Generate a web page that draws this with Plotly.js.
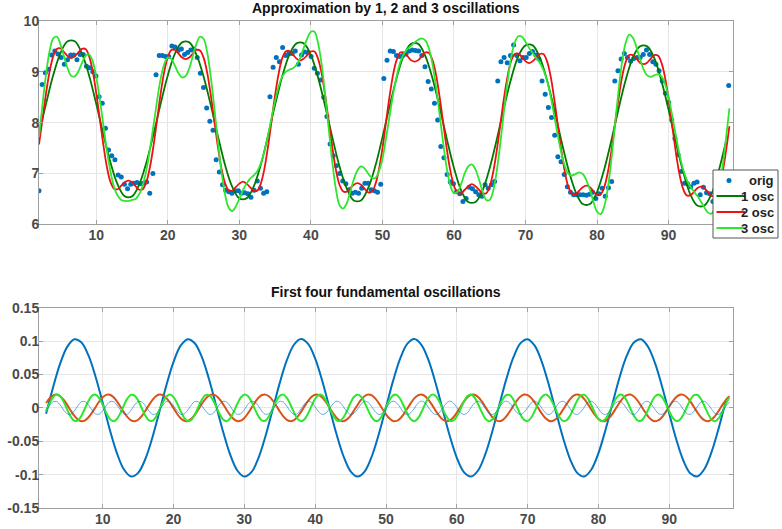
<!DOCTYPE html>
<html><head><meta charset="utf-8">
<script src="https://cdn.plot.ly/plotly-3.0.1.min.js"></script>
<style>html,body{margin:0;padding:0;background:#fff}#chart{width:782px;height:529px}</style>
</head><body><div id="chart"></div>
<script>
// ---------- data ----------
const origStart = 2, origStep = 0.4422;
const origY = [
6.66,8.75,8.98,9.05,9.33,9.41,9.35,9.28,9.15,9.24,9.33,9.33,9.24,9.34,9.34,9.11,9.08,9.00,8.92,8.51,8.38,7.89,7.46,7.35,7.27,6.97,6.93,6.79,6.70,6.79,6.81,6.82,6.80,6.81,6.83,6.61,7.00,8.94,
9.32,9.32,9.30,9.30,9.51,9.49,9.42,9.45,9.34,9.38,9.43,9.45,9.28,8.97,8.69,8.29,8.03,7.85,7.27,7.03,6.78,6.67,6.64,6.61,6.66,6.66,6.61,6.62,6.60,6.53,6.67,6.85,6.71,6.61,6.64,8.51,
9.09,9.28,9.20,9.48,9.32,9.36,9.36,9.41,9.15,9.33,9.39,9.38,9.30,9.07,8.97,8.84,8.50,8.12,7.58,7.35,7.15,7.00,6.85,6.80,6.68,6.61,6.63,6.61,6.71,6.81,6.81,6.68,6.66,6.63,6.79,8.87,9.23,
9.41,9.40,9.32,9.30,9.32,9.35,9.41,9.43,9.42,9.41,9.32,9.10,8.81,8.66,8.38,8.05,7.53,7.31,6.98,6.83,6.80,6.64,6.60,6.45,6.51,6.73,6.70,6.64,6.58,6.55,6.78,6.71,6.78,6.84,8.82,9.20,
9.28,9.18,9.32,9.53,9.32,9.22,9.28,9.28,9.36,9.40,9.33,9.25,8.82,8.56,8.30,8.10,7.75,7.33,7.23,6.98,6.74,6.63,6.58,6.58,6.58,6.58,6.57,6.59,6.63,6.51,6.60,6.71,6.55,6.72,6.84,8.82,9.02,9.25,
9.36,9.28,9.21,9.26,9.28,9.28,9.34,9.43,9.34,9.20,9.15,9.02,8.82,8.58,8.40,8.05,7.69,7.37,7.04,6.81,6.80,6.74,6.81,6.83,6.58,6.73,6.62,6.60,6.45,6.55,6.65,6.80,7.00,8.73];

const lineStart = 2, coarseStep = 1, fineStep = 0.5;
const osc1Y = [7.78,8.38,8.94,9.37,
9.60,9.60,9.36,8.93,8.37,7.77,7.21,6.78,6.55,6.55,6.78,7.21,7.77,8.37,8.93,9.36,
9.58,9.58,9.34,8.91,8.35,7.74,7.17,6.74,6.51,6.51,6.74,7.17,7.74,8.35,8.91,9.34,
9.56,9.56,9.33,8.89,8.32,7.71,7.14,6.71,6.47,6.47,6.71,7.14,7.71,8.32,8.89,9.33,
9.55,9.55,9.31,8.87,8.30,7.68,7.11,6.67,6.44,6.44,6.67,7.11,7.68,8.30,8.87,9.31,
9.52,9.52,9.28,8.84,8.27,7.65,7.08,6.64,6.40,6.40,6.64,7.08,7.65,8.27,8.84,9.28,
9.50,9.50,9.27,8.82,8.25,7.62,7.05,6.60,6.37,6.37,6.60,7.05,7.62];

const osc2Y = [
7.57,8.08,8.59,9.02,9.31,9.45,9.46,9.39, 9.31,9.27,9.31,9.38,9.45,9.45,9.31,9.02,
8.58,8.07,7.56,7.12,6.83,6.70,6.69,6.76, 6.83,6.86,6.83,6.75,6.68,6.69,6.83,7.12,
7.54,8.05,8.57,9.00,9.29,9.43,9.43,9.36, 9.28,9.25,9.28,9.36,9.43,9.42,9.28,8.99,
8.55,8.04,7.53,7.10,6.81,6.67,6.66,6.73, 6.80,6.84,6.80,6.73,6.66,6.66,6.80,7.09,
7.52,8.03,8.54,8.97,9.27,9.40,9.41,9.34, 9.26,9.22,9.26,9.33,9.40,9.40,9.26,8.97,
8.53,8.02,7.51,7.07,6.78,6.65,6.64,6.71, 6.78,6.81,6.78,6.70,6.63,6.64,6.78,7.07,
7.49,8.01,8.52,8.95,9.24,9.38,9.38,9.31, 9.23,9.20,9.23,9.31,9.38,9.37,9.23,8.94,
8.50,7.99,7.48,7.05,6.76,6.62,6.61,6.68, 6.75,6.79,6.75,6.68,6.61,6.61,6.75,7.04,
7.47,7.98,8.49,8.92,9.22,9.35,9.36,9.29, 9.21,9.17,9.21,9.28,9.35,9.35,9.21,8.92,
8.48,7.97,7.46,7.03,6.73,6.60,6.59,6.66, 6.73,6.76,6.73,6.65,6.58,6.59,6.73,7.02,
7.44,7.96,8.47,8.90,9.19,9.33,9.33,9.26, 9.18,9.15,9.18,9.26,9.33,9.32,9.18,8.89,
8.46,7.94,7.43,7.00,6.71,6.57,6.57,6.63, 6.71,6.74,6.71,6.63,6.56,6.57,6.70,6.99,
7.42,7.93];

const osc3Y = [
7.72,8.37,8.97,9.42,9.66,9.69,9.54,9.30, 9.07,8.92,8.91,9.01,9.17,9.31,9.34,9.21,
8.90,8.46,7.95,7.44,7.03,6.73,6.56,6.48, 6.46,6.46,6.48,6.50,6.59,6.77,7.06,7.47,
7.94,8.43,8.86,9.15,9.28,9.25,9.12,8.97, 8.89,8.92,9.07,9.31,9.55,9.69,9.65,9.39,
8.91,8.30,7.64,7.04,6.59,6.33,6.26,6.35, 6.50,6.67,6.80,6.90,6.96,7.04,7.20,7.43,
7.74,8.09,8.43,8.71,8.91,9.00,9.04,9.07, 9.14,9.27,9.47,9.66,9.79,9.79,9.57,9.15,
8.54,7.87,7.22,6.69,6.38,6.31,6.41,6.64, 6.88,7.06,7.14,7.10,7.00,6.92,6.91,7.04,
7.29,7.69,8.13,8.56,8.92,9.19,9.35,9.45, 9.51,9.58,9.63,9.66,9.62,9.46,9.15,8.70,
8.15,7.59,7.10,6.76,6.61,6.64,6.79,7.00, 7.14,7.18,7.08,6.88,6.65,6.48,6.48,6.67,
7.07,7.62,8.24,8.82,9.29,9.58,9.70,9.69, 9.59,9.47,9.37,9.27,9.18,9.04,8.83,8.53,
8.15,7.76,7.41,7.14,6.99,6.96,6.99,7.02, 6.99,6.87,6.68,6.44,6.25,6.20,6.35,6.71,
7.27,7.95,8.63,9.20,9.57,9.73,9.67,9.49, 9.25,9.05,8.93,8.90,8.93,8.95,8.91,8.76,
8.50,8.14,7.76,7.39,7.10,6.89,6.75,6.65, 6.56,6.45,6.33,6.23,6.21,6.33,6.62,7.08,
7.66,8.28];

// bottom panel: four fundamental oscillations
const fund1Y = [-0.0089,0.0312,0.0665,0.0917,0.1027,0.0979,0.0781,0.0462,0.0073,-0.0328,-0.0678,-0.0924,-0.1028,-0.0974,-0.0770,-0.0448,
-0.0057,0.0343,0.0690,0.0931,0.1029,0.0968,0.0759,0.0433,0.0040,-0.0358,-0.0702,-0.0938,-0.1029,-0.0963,-0.0748,-0.0418,
-0.0024,0.0374,0.0714,0.0945,0.1030,0.0957,0.0737,0.0403,0.0008,-0.0389,-0.0725,-0.0951,-0.1030,-0.0951,-0.0725,-0.0388,
0.0008,0.0404,0.0737,0.0957,0.1030,0.0944,0.0714,0.0373,-0.0025,-0.0419,-0.0748,-0.0963,-0.1029,-0.0938,-0.0702,-0.0358,
0.0041,0.0434,0.0759,0.0969,0.1029,0.0931,0.0690,0.0343,-0.0057,-0.0448,-0.0771,-0.0974,-0.1028,-0.0924,-0.0678,-0.0327,
0.0073,0.0463,0.0781,0.0979,0.1027,0.0916,0.0665,0.0312,-0.0090,-0.0477,-0.0792,-0.0984,-0.1025,-0.0909,-0.0652,-0.0296,
0.0106];

const fund2Y = [0.0073,0.0144,0.0188,0.0199,0.0174,0.0118,0.0041,-0.0044,-0.0121,-0.0176,-0.0200,-0.0187,-0.0141,-0.0070,0.0014,0.0095,
0.0159,0.0195,0.0196,0.0161,0.0098,0.0017,-0.0067,-0.0139,-0.0186,-0.0200,-0.0178,-0.0124,-0.0047,0.0037,0.0115,0.0173,
0.0199,0.0190,0.0146,0.0077,-0.0007,-0.0089,-0.0155,-0.0193,-0.0197,-0.0165,-0.0104,-0.0024,0.0061,0.0134,0.0183,0.0200,
0.0181,0.0129,0.0054,-0.0031,-0.0110,-0.0169,-0.0198,-0.0192,-0.0151,-0.0083,0.0000,0.0083,0.0151,0.0192,0.0198,0.0169,
0.0110,0.0031,-0.0054,-0.0129,-0.0181,-0.0200,-0.0183,-0.0134,-0.0061,0.0024,0.0104,0.0165,0.0197,0.0193,0.0155,0.0089,
0.0007,-0.0077,-0.0146,-0.0190,-0.0199,-0.0173,-0.0115,-0.0037,0.0047,0.0124,0.0178,0.0200,0.0186,0.0139,0.0067,-0.0017,
-0.0098,-0.0161,-0.0196,-0.0195,-0.0159,-0.0095,-0.0014,0.0070,0.0141,0.0187,0.0200,0.0176,0.0121,0.0044,-0.0041,-0.0118,
-0.0174,-0.0199,-0.0188,-0.0144,-0.0073,0.0010,0.0092,0.0157,0.0194,0.0196,0.0163,0.0101,0.0020,-0.0064,-0.0137,-0.0185,
-0.0200,-0.0179,-0.0126,-0.0051,0.0034,0.0113,0.0171,0.0199,0.0191,0.0149,0.0080,-0.0003,-0.0086,-0.0153,-0.0193,-0.0198,
-0.0167,-0.0107,-0.0027,0.0057,0.0132,0.0182,0.0200,0.0182,0.0132,0.0057,-0.0027,-0.0107,-0.0167,-0.0198,-0.0193,-0.0153,
-0.0086,-0.0003,0.0080,0.0149,0.0191,0.0199,0.0171,0.0113,0.0034,-0.0051,-0.0126,-0.0179,-0.0200,-0.0185,-0.0137,-0.0064,
0.0020,0.0101,0.0163,0.0196,0.0194,0.0157,0.0092,0.0010,-0.0073,-0.0144,-0.0188,-0.0199,-0.0174,-0.0118,-0.0041,0.0044,
0.0121,0.0176];

const fund3Y = [-0.0051,0.0065,0.0160,0.0200,0.0172,0.0086,-0.0030,-0.0135,-0.0194,-0.0188,-0.0117,-0.0006,0.0106,0.0183,0.0197,0.0144,
0.0042,-0.0074,-0.0165,-0.0200,-0.0167,-0.0077,0.0039,0.0142,0.0196,0.0184,0.0109,-0.0003,-0.0114,-0.0186,-0.0195,-0.0137,
-0.0033,0.0083,0.0170,0.0200,0.0161,0.0068,-0.0049,-0.0149,-0.0198,-0.0180,-0.0101,0.0013,0.0122,0.0190,0.0193,0.0130,
0.0024,-0.0091,-0.0175,-0.0199,-0.0156,-0.0059,0.0058,0.0155,0.0199,0.0176,0.0093,-0.0022,-0.0129,-0.0192,-0.0190,-0.0123,
-0.0014,0.0100,0.0179,0.0198,0.0149,0.0050,-0.0067,-0.0161,-0.0200,-0.0171,-0.0084,0.0032,0.0136,0.0195,0.0187,0.0115,
0.0005,-0.0108,-0.0183,-0.0197,-0.0143,-0.0041,0.0076,0.0166,0.0200,0.0166,0.0075,-0.0041,-0.0143,-0.0197,-0.0183,-0.0108,
0.0005,0.0116,0.0187,0.0195,0.0136,0.0031,-0.0084,-0.0171,-0.0200,-0.0160,-0.0066,0.0050,0.0150,0.0198,0.0179,0.0099,
-0.0014,-0.0123,-0.0190,-0.0192,-0.0129,-0.0022,0.0093,0.0176,0.0199,0.0155,0.0057,-0.0059,-0.0156,-0.0199,-0.0175,-0.0091,
0.0024,0.0131,0.0193,0.0190,0.0122,0.0012,-0.0101,-0.0180,-0.0198,-0.0148,-0.0048,0.0068,0.0162,0.0200,0.0170,0.0082,
-0.0033,-0.0138,-0.0195,-0.0186,-0.0114,-0.0003,0.0109,0.0184,0.0196,0.0142,0.0039,-0.0077,-0.0167,-0.0200,-0.0165,-0.0074,
0.0043,0.0144,0.0197,0.0183,0.0106,-0.0007,-0.0117,-0.0188,-0.0194,-0.0135,-0.0030,0.0086,0.0172,0.0200,0.0159,0.0065,
-0.0052,-0.0151,-0.0198,-0.0179,-0.0098,0.0016,0.0125,0.0191,0.0192,0.0128,0.0020,-0.0094,-0.0177,-0.0199,-0.0153,-0.0056,
0.0061,0.0157];

const fund4Y = [
-0.0044,0.0033,0.0090,0.0094,0.0042,-0.0035,-0.0091,-0.0094, -0.0044,0.0033,0.0090,0.0094,0.0042,-0.0035,-0.0091,-0.0094, -0.0044,0.0033,0.0090,0.0094,0.0042,-0.0035,-0.0091,-0.0094,
-0.0035,0.0042,0.0094,0.0090,0.0033,-0.0043,-0.0095,-0.0090, -0.0035,0.0042,0.0094,0.0090,0.0033,-0.0043,-0.0095,-0.0090, -0.0035,0.0042,0.0094,0.0090,0.0033,-0.0043,-0.0095,-0.0090,
-0.0026,0.0051,0.0097,0.0086,0.0024,-0.0052,-0.0097,-0.0085, -0.0026,0.0051,0.0097,0.0086,0.0024,-0.0052,-0.0097,-0.0085, -0.0026,0.0051,0.0097,0.0086,0.0024,-0.0052,-0.0097,-0.0085,
-0.0017,0.0058,0.0099,0.0081,0.0015,-0.0060,-0.0099,-0.0080, -0.0017,0.0058,0.0099,0.0081,0.0015,-0.0060,-0.0099,-0.0080, -0.0017,0.0058,0.0099,0.0081,0.0015,-0.0060,-0.0099,-0.0080,
-0.0007,0.0066,0.0100,0.0075,0.0006,-0.0067,-0.0100,-0.0074, -0.0007,0.0066,0.0100,0.0075,0.0006,-0.0067,-0.0100,-0.0074, -0.0007,0.0066,0.0100,0.0075,0.0006,-0.0067,-0.0100,-0.0074,
0.0002,0.0073,0.0100,0.0068,-0.0004,-0.0074,-0.0100,-0.0067, 0.0002,0.0073,0.0100,0.0068,-0.0004,-0.0074,-0.0100,-0.0067, 0.0002,0.0073,0.0100,0.0068,-0.0004,-0.0074,-0.0100,-0.0067,
0.0012,0.0079,0.0099,0.0061,-0.0013,-0.0080,-0.0099,-0.0060, 0.0012,0.0079,0.0099,0.0061,-0.0013,-0.0080,-0.0099,-0.0060, 0.0012,0.0079,0.0099,0.0061,-0.0013,-0.0080,-0.0099,-0.0060,
0.0024,0.0086,0.0097,0.0050,-0.0026,-0.0087,-0.0096,-0.0049, 0.0024,0.0086,0.0097,0.0050,-0.0026,-0.0087,-0.0096,-0.0049, 0.0024,0.0086,0.0097,0.0050,-0.0026,-0.0087,-0.0096,-0.0049,
0.0024,0.0086];

const xTickVals = [10,20,30,40,50,60,70,80,90];
const topYTicks = [6,7,8,9,10];
const botYTicks = [-0.15,-0.1,-0.05,0,0.05,0.1,0.15];
const botYText = ['-0.15','-0.1','-0.05','0','0.05','0.1','0.15'];
const legendNames = ['orig','1 osc','2 osc','3 osc'];
const titles = ['Approximation by 1, 2 and 3 oscillations','First four fundamental oscillations'];

// ---------- build ----------
function grid(start, step, n){ return Array.from({length:n}, (_, i) => +(start + i*step).toFixed(4)); }

const C = {blue:'#0072BD', dgreen:'#007a00', red:'#ee1111', green:'#2ee62e', orange:'#D95319'};
const W = 782, H = 529, M = {l:39, r:49, t:21, b:21};
const PW = W - M.l - M.r, PH = H - M.t - M.b;
const px2x = px => (px - M.l) / PW;
const px2y = py => (H - M.b - py) / PH;

const traces = [
  {x: grid(origStart, origStep, origY.length), y: origY, type:'scatter', mode:'markers', name: legendNames[0],
   marker:{color:C.blue, size:5}, xaxis:'x', yaxis:'y'},
  {x: grid(lineStart, coarseStep, osc1Y.length), y: osc1Y, type:'scatter', mode:'lines', name: legendNames[1],
   line:{color:C.dgreen, width:1.8, shape:'spline', smoothing:1}, xaxis:'x', yaxis:'y'},
  {x: grid(lineStart, fineStep, osc2Y.length), y: osc2Y, type:'scatter', mode:'lines', name: legendNames[2],
   line:{color:C.red, width:1.8, shape:'spline', smoothing:1}, xaxis:'x', yaxis:'y'},
  {x: grid(lineStart, fineStep, osc3Y.length), y: osc3Y, type:'scatter', mode:'lines', name: legendNames[3],
   line:{color:C.green, width:1.8, shape:'spline', smoothing:1}, xaxis:'x', yaxis:'y'},
  {x: grid(lineStart, coarseStep, fund1Y.length), y: fund1Y, type:'scatter', mode:'lines',
   line:{color:C.blue, width:2, shape:'spline', smoothing:1}, xaxis:'x2', yaxis:'y2'},
  {x: grid(lineStart, fineStep, fund2Y.length), y: fund2Y, type:'scatter', mode:'lines',
   line:{color:C.orange, width:2, shape:'spline', smoothing:1}, xaxis:'x2', yaxis:'y2'},
  {x: grid(lineStart, fineStep, fund3Y.length), y: fund3Y, type:'scatter', mode:'lines',
   line:{color:C.green, width:2, shape:'spline', smoothing:1}, xaxis:'x2', yaxis:'y2'},
  {x: grid(lineStart, fineStep, fund4Y.length), y: fund4Y, type:'scatter', mode:'lines',
   line:{color:C.blue, width:0.6, shape:'spline', smoothing:1}, xaxis:'x2', yaxis:'y2'}
];

const fontFam = 'Liberation Sans, Arial, sans-serif';
const tickFont = {family:fontFam, size:14, color:'#4a4a4a', weight:'bold'};
const axisBase = {showline:true, linecolor:'#a0a0a0', linewidth:1, mirror:'ticks', ticks:'inside', ticklen:4,
  tickcolor:'#a0a0a0', showgrid:true, gridcolor:'#e6e6e6', gridwidth:1, zeroline:false, tickfont:tickFont, fixedrange:true};

// MATLAB-style legend box drawn with shapes + text annotations
const legBox = {x0:713, x1:778, y0:170, y1:238};
const legRowsY = [180.5, 196, 212, 228];
const legColors = [C.blue, C.dgreen, C.red, C.green];
const shapes = [
  {type:'rect', xref:'paper', yref:'paper', x0:px2x(legBox.x0), x1:px2x(legBox.x1), y0:px2y(legBox.y1), y1:px2y(legBox.y0),
   fillcolor:'#fff', line:{color:'#555', width:1}, layer:'above'},
  {type:'circle', xref:'paper', yref:'paper', x0:px2x(726.5), x1:px2x(731.5), y0:px2y(legRowsY[0]+2.5), y1:px2y(legRowsY[0]-2.5),
   fillcolor:legColors[0], line:{color:legColors[0], width:0}, layer:'above'}
];
for (let k = 1; k < 4; k++) {
  shapes.push({type:'line', xref:'paper', yref:'paper', x0:px2x(716.5), x1:px2x(745), y0:px2y(legRowsY[k]), y1:px2y(legRowsY[k]),
    line:{color:legColors[k], width:2}, layer:'above'});
}
const annotations = [
  {text:titles[0], xref:'paper', yref:'paper', x:0.5, y:px2y(8.5), xanchor:'center', yanchor:'middle', showarrow:false,
   font:{family:fontFam, size:14, color:'#111', weight:'bold'}},
  {text:titles[1], xref:'paper', yref:'paper', x:0.5, y:px2y(291.7), xanchor:'center', yanchor:'middle', showarrow:false,
   font:{family:fontFam, size:14, color:'#111', weight:'bold'}}
];
for (let k = 0; k < 4; k++) {
  annotations.push({text:legendNames[k], xref:'paper', yref:'paper', x:px2x(776), y:px2y(legRowsY[k]), xanchor:'right', yanchor:'middle',
    showarrow:false, font:{family:fontFam, size:13, color:'#222', weight:'bold'}});
}

const layout = {
  width:W, height:H, paper_bgcolor:'#fff', plot_bgcolor:'#fff',
  margin:Object.assign({autoexpand:false}, M),
  showlegend:false,
  xaxis: Object.assign({}, axisBase, {domain:[0,1], range:[2,99], tickvals:xTickVals, anchor:'y', ticklabelstandoff:-2}),
  yaxis: Object.assign({}, axisBase, {domain:[px2y(224.3),1], range:[6,10], tickvals:topYTicks, anchor:'x', ticklabelstandoff:-4}),
  xaxis2: Object.assign({}, axisBase, {domain:[0,1], range:[1,99], tickvals:xTickVals, anchor:'y2', ticklabelstandoff:-2}),
  yaxis2: Object.assign({}, axisBase, {domain:[0,px2y(307.7)], range:[-0.15,0.15], tickvals:botYTicks, ticktext:botYText, anchor:'x2', ticklabelstandoff:-4}),
  shapes: shapes,
  annotations: annotations
};

Plotly.newPlot('chart', traces, layout, {staticPlot:true, displayModeBar:false});
</script></body></html>
